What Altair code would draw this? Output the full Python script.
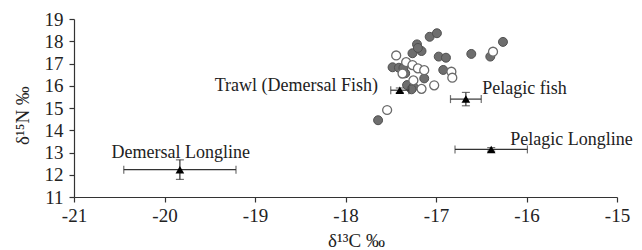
import altair as alt
import pandas as pd

# Filled circles (delta13C, delta15N)
filled_x = [-17.64, -17.07, -16.99, -17.21, -17.26, -17.16, -17.20, -16.97, -16.89, -16.61,
            -16.40, -16.26, -17.48, -17.41, -17.34, -16.92, -17.13, -17.32, -17.25, -17.36, -17.27]
filled_y = [14.45, 18.20, 18.36, 17.86, 17.46, 17.56, 17.70, 17.31, 17.26, 17.43,
            17.31, 17.97, 16.83, 16.81, 16.56, 16.71, 16.33, 16.03, 15.95, 16.80, 15.84]

# Open circles
open_x = [-17.44, -17.54, -16.37, -16.83, -16.82, -17.02, -17.16, -17.25, -17.33, -17.26,
          -17.20, -17.13, -17.37]
open_y = [17.36, 14.91, 17.53, 16.63, 16.36, 16.02, 15.86, 16.24, 17.06, 16.93,
          16.78, 16.70, 16.55]

# Group means with error bars
group_names = ["Demersal Longline", "Trawl (Demersal Fish)", "Pelagic fish", "Pelagic Longline"]
mean_x = [-19.83, -17.40, -16.67, -16.39]
mean_y = [12.23, 15.80, 15.40, 13.14]
err_x = [0.62, 0.10, 0.17, 0.40]
err_y = [0.44, 0.10, 0.30, 0.08]

# Label positions
label_x = [-19.82, -17.64, -16.49, -16.18]
label_y = [13.00, 15.99, 15.84, 13.55]
label_align = ["center", "right", "left", "left"]

FONT = "Liberation Serif"
FS = 18
AFS = 19

pts = pd.concat([
    pd.DataFrame({"x": filled_x, "y": filled_y, "kind": "filled"}),
    pd.DataFrame({"x": open_x, "y": open_y, "kind": "open"}),
])
means = pd.DataFrame({
    "name": group_names, "x": mean_x, "y": mean_y,
    "xlo": [m - e for m, e in zip(mean_x, err_x)],
    "xhi": [m + e for m, e in zip(mean_x, err_x)],
    "ylo": [m - e for m, e in zip(mean_y, err_y)],
    "yhi": [m + e for m, e in zip(mean_y, err_y)],
})
labels = pd.DataFrame({"name": group_names, "lx": label_x, "ly": label_y, "align": label_align})

xs = alt.Scale(domain=[-21, -15], nice=False, zero=False, padding=0)
ys = alt.Scale(domain=[11, 19], nice=False, zero=False, padding=0)

xaxis = alt.Axis(values=[-21, -20, -19, -18, -17, -16, -15], title="δ¹³C ‰", grid=False,
                 labelExpr="datum.value + ''", labelOverlap=False, labelFlush=False,
                 labelFont=FONT, labelFontSize=AFS, titleFont=FONT, titleFontSize=AFS,
                 titleFontWeight="normal", labelColor="#222", titleColor="#222",
                 domainColor="#333", tickColor="#333", tickSize=5, labelPadding=4,
                 titleX=282, titleY=49, titleBaseline="alphabetic", titleAlign="center")
yaxis = alt.Axis(values=list(range(11, 20)), title="δ¹⁵N ‰", grid=False,
                 labelExpr="datum.value + ''", labelOverlap=False, labelFlush=False,
                 labelFont=FONT, labelFontSize=AFS, titleFont=FONT, titleFontSize=AFS,
                 titleFontWeight="normal", labelColor="#222", titleColor="#222",
                 domainColor="#333", tickColor="#333", tickSize=5, labelPadding=6,
                 titleX=-52, titleY=96, titleAngle=270, titleBaseline="middle", titleAlign="center")

base = alt.Chart(pts)
filled = base.transform_filter(alt.datum.kind == "filled").mark_point(
    shape="circle", filled=True, size=80, color="#6e6e6e", stroke="#505050", strokeWidth=1, opacity=1
).encode(x=alt.X("x:Q", scale=xs, axis=xaxis), y=alt.Y("y:Q", scale=ys, axis=yaxis))
opn = base.transform_filter(alt.datum.kind == "open").mark_point(
    shape="circle", filled=True, size=80, fill="white", stroke="#6a6a6a", strokeWidth=1.3, opacity=1
).encode(x=alt.X("x:Q", scale=xs, axis=xaxis), y=alt.Y("y:Q", scale=ys, axis=yaxis))

mb = alt.Chart(means)
hbar = mb.mark_rule(color="#333", strokeWidth=1.2).encode(
    x=alt.X("xlo:Q", scale=xs, axis=xaxis), x2="xhi:Q", y=alt.Y("y:Q", scale=ys, axis=yaxis))
vbar = mb.mark_rule(color="#333", strokeWidth=1.2).encode(
    x=alt.X("x:Q", scale=xs, axis=xaxis), y=alt.Y("ylo:Q", scale=ys, axis=yaxis), y2="yhi:Q")
capl = mb.mark_tick(orient="vertical", color="#333", size=8, thickness=1.2).encode(
    x=alt.X("xlo:Q", scale=xs, axis=xaxis), y=alt.Y("y:Q", scale=ys, axis=yaxis))
capr = mb.mark_tick(orient="vertical", color="#333", size=8, thickness=1.2).encode(
    x=alt.X("xhi:Q", scale=xs, axis=xaxis), y=alt.Y("y:Q", scale=ys, axis=yaxis))
capb = mb.mark_tick(orient="horizontal", color="#333", size=8, thickness=1.2).encode(
    x=alt.X("x:Q", scale=xs, axis=xaxis), y=alt.Y("ylo:Q", scale=ys, axis=yaxis))
capt = mb.mark_tick(orient="horizontal", color="#333", size=8, thickness=1.2).encode(
    x=alt.X("x:Q", scale=xs, axis=xaxis), y=alt.Y("yhi:Q", scale=ys, axis=yaxis))
tri = mb.mark_point(shape="triangle-up", filled=True, size=75, color="black", opacity=1).encode(
    x=alt.X("x:Q", scale=xs, axis=xaxis), y=alt.Y("y:Q", scale=ys, axis=yaxis))

lb = alt.Chart(labels)
text_layers = []
for al in ["center", "right", "left"]:
    text_layers.append(
        lb.transform_filter(alt.datum.align == al).mark_text(
            align=al, baseline="middle", font=FONT, fontSize=FS, color="#222"
        ).encode(x=alt.X("lx:Q", scale=xs, axis=xaxis), y=alt.Y("ly:Q", scale=ys, axis=yaxis),
                 text="name:N")
    )

chart = alt.layer(filled, opn, hbar, vbar, capl, capr, capb, capt, tri, *text_layers).properties(
    width=543, height=178,
    autosize=alt.AutoSizeParams(type="none"),
    padding={"left": 66, "top": 11, "right": 17, "bottom": 53},
).configure_view(stroke=None).configure_axis(
    domainWidth=1.2, tickWidth=1.2, labelOverlap=False, labelFlush=False
)

chart.save("out.html", embed_options={"renderer": "svg", "actions": False})
